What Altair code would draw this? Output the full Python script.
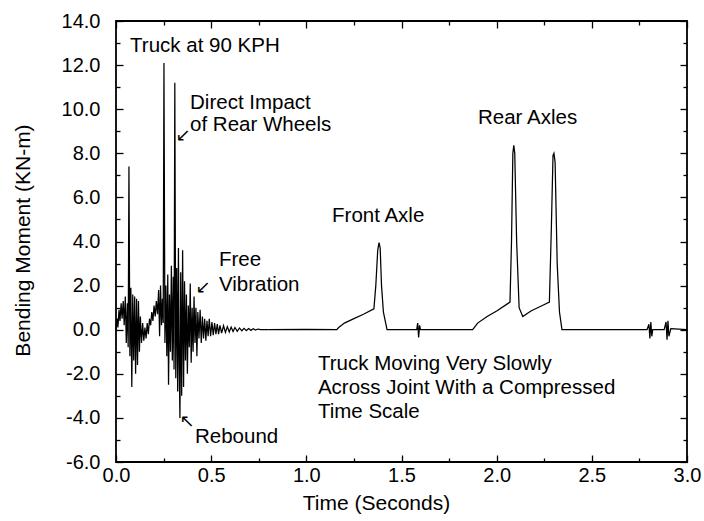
import altair as alt
import pandas as pd

# ---- data ----
fast_t = [0.000, 0.006, 0.010, 0.016, 0.021, 0.027, 0.032, 0.038, 0.043, 0.049,
          0.054, 0.060, 0.064, 0.068, 0.073, 0.078, 0.083, 0.088, 0.093, 0.098,
          0.103, 0.108, 0.113, 0.118, 0.123, 0.128, 0.134, 0.140, 0.146, 0.152,
          0.158, 0.164, 0.170, 0.176, 0.182, 0.188, 0.194, 0.200, 0.206, 0.212,
          0.218, 0.224, 0.229, 0.234, 0.239, 0.244, 0.248, 0.252, 0.257, 0.262,
          0.267, 0.272, 0.276, 0.281, 0.286, 0.291, 0.296, 0.301, 0.305, 0.309,
          0.314, 0.319, 0.324, 0.328, 0.332, 0.336, 0.340, 0.345, 0.350, 0.355,
          0.360, 0.365, 0.370, 0.375, 0.380, 0.385, 0.390, 0.395, 0.400, 0.405,
          0.410, 0.415, 0.420, 0.425, 0.430, 0.436, 0.442, 0.448, 0.454, 0.460,
          0.466, 0.472, 0.478, 0.484, 0.490, 0.497, 0.504, 0.511, 0.518, 0.525,
          0.532, 0.539, 0.546, 0.555, 0.565, 0.575, 0.585, 0.595, 0.605, 0.615,
          0.625, 0.637, 0.649, 0.661, 0.673, 0.685, 0.697, 0.709, 0.721, 0.733,
          0.745, 0.760, 0.800]
fast_v = [0.0, 0.5, 0.1, 0.9, 0.4, 1.2, 0.5, 1.3, 0.2, 1.5,
          -0.6, 1.2, -0.8, 7.4, -1.2, 1.9, -2.6, 1.6, -1.4, 1.5,
          -2.0, 1.4, -1.6, 1.3, -1.0, 0.6, -0.6, 0.3, -0.5, 0.1,
          -0.4, 0.3, -0.2, 0.5, 0.2, 0.8, 0.4, 1.1, 0.6, 1.3,
          0.7, 1.8, -0.3, 2.0, 0.2, 1.4, 0.3, 12.1, -0.6, 2.0,
          -1.2, 2.5, -2.5, 1.6, -1.0, 2.9, -1.4, 2.4, -1.8, 11.2,
          -2.2, 2.8, -2.8, 3.7, -1.6, -4.0, 2.6, -3.0, 3.6, -2.6,
          2.2, -1.4, 1.6, -2.0, 1.1, -0.8, 2.1, -1.5, 1.0, -1.0,
          1.5, -0.6, 1.0, -1.2, 0.8, -0.4, 0.9, -0.6, 0.6, -0.4,
          0.5, -0.5, 0.4, -0.3, 0.5, -0.3, 0.35, -0.25, 0.3, -0.2,
          0.25, -0.2, 0.2, -0.15, 0.18, -0.12, 0.14, -0.1, 0.12, -0.08,
          0.1, -0.07, 0.08, -0.05, 0.06, -0.04, 0.05, -0.03, 0.04, -0.02,
          0.03, 0.0, 0.0]

slow_t = [0.80, 1.00, 1.16, 1.17, 1.20, 1.25, 1.30, 1.355, 1.365, 1.375,
          1.382, 1.388, 1.395, 1.405, 1.424, 1.58, 1.585, 1.59, 1.595, 1.60,
          1.874, 1.90, 1.95, 2.00, 2.07, 2.078, 2.085, 2.090, 2.095, 2.105,
          2.118, 2.137, 2.18, 2.24, 2.277, 2.287, 2.296, 2.301, 2.307, 2.318,
          2.33, 2.343, 2.79, 2.80, 2.805, 2.81, 2.815, 2.82, 2.88, 2.89,
          2.895, 2.90, 2.905, 2.915, 3.00]
slow_v = [0.0, 0.02, 0.0, 0.1, 0.3, 0.5, 0.7, 0.95, 2.0, 3.6,
          3.95, 3.7, 2.0, 0.8, 0.0, 0.0, 0.3, -0.35, 0.2, 0.0,
          0.0, 0.3, 0.6, 0.85, 1.25, 4.0, 8.0, 8.36, 8.0, 4.0,
          1.0, 0.6, 0.85, 1.1, 1.25, 4.5, 7.9, 8.0, 7.6, 3.0,
          0.8, 0.0, 0.0, 0.25, -0.4, 0.35, -0.3, 0.0, 0.0, 0.35,
          -0.45, 0.4, -0.3, 0.05, 0.0]

x_major = [0.0, 0.5, 1.0, 1.5, 2.0, 2.5, 3.0]
x_minor = [0.25, 0.75, 1.25, 1.75, 2.25, 2.75]
y_major = [-6, -4, -2, 0, 2, 4, 6, 8, 10, 12, 14]
y_minor = [-5, -3, -1, 1, 3, 5, 7, 9, 11, 13]

ann_text = ["Truck at 90 KPH", "Direct Impact", "of Rear Wheels", "Free", "Vibration",
            "Rebound", "Front Axle", "Rear Axles", "Truck Moving Very Slowly",
            "Across Joint With a Compressed", "Time Scale"]
ann_t = [0.074, 0.389, 0.389, 0.541, 0.541, 0.415, 1.135, 1.902, 1.061, 1.061, 1.061]
ann_v = [12.88, 10.3, 9.3, 3.17, 2.04, -4.85, 5.17, 9.6, -1.54, -2.63, -3.72]

arrow_text = ["↙", "↙", "↖"]
arrow_t = [0.352, 0.457, 0.373]
arrow_v = [8.8, 1.9, -4.2]

FONT = "Liberation Sans"
W, H = 571, 441

df = pd.DataFrame({
    "t": fast_t + slow_t,
    "v": fast_v + slow_v,
    "s": ["fast"] * len(fast_t) + ["slow"] * len(slow_t),
})
ann = pd.DataFrame({"label": ann_text, "t": ann_t, "v": ann_v})
arr = pd.DataFrame({"label": arrow_text, "t": arrow_t, "v": arrow_v})

xs = alt.Scale(domain=[0, 3], nice=False, zero=False)
ys = alt.Scale(domain=[-6, 14], nice=False, zero=False)

ylab = "(datum.value < 0 ? '-' : '') + format(abs(datum.value), '.1f')"
xlab = "format(datum.value, '.1f')"

base = alt.Chart(df)

main = base.mark_line(color="black", strokeWidth=1.25).encode(
    x=alt.X("t:Q", scale=xs, axis=alt.Axis(
        orient="bottom", values=x_major, offset=-7, tickSize=7, domain=False, grid=False,
        labelExpr=xlab, labelPadding=3, labelFlush=False,
        title="Time (Seconds)", titlePadding=7, titleX=260)),
    y=alt.Y("v:Q", scale=ys, axis=alt.Axis(
        orient="left", values=y_major, offset=-7, tickSize=7, domain=False, grid=False,
        labelExpr=ylab, labelPadding=16, labelFlush=False,
        title="Bending Moment (KN-m)", titlePadding=28, titleY=219)),
    detail="s:N",
)

minor_bl = base.mark_line(strokeOpacity=0).encode(
    x=alt.X("t:Q", scale=xs, axis=alt.Axis(
        orient="bottom", values=x_minor, offset=-4, tickSize=4, domain=False, grid=False,
        labels=False, title=None)),
    y=alt.Y("v:Q", scale=ys, axis=alt.Axis(
        orient="left", values=y_minor, offset=-4, tickSize=4, domain=False, grid=False,
        labels=False, title=None)),
    detail="s:N",
)

major_tr = base.mark_line(strokeOpacity=0).encode(
    x=alt.X("t:Q", scale=xs, axis=alt.Axis(
        orient="top", values=x_major, offset=-7, tickSize=7, domain=False, grid=False,
        labels=False, title=None)),
    y=alt.Y("v:Q", scale=ys, axis=alt.Axis(
        orient="right", values=y_major, offset=-7, tickSize=7, domain=False, grid=False,
        labels=False, title=None)),
    detail="s:N",
)

minor_tr = base.mark_line(strokeOpacity=0).encode(
    x=alt.X("t:Q", scale=xs, axis=alt.Axis(
        orient="top", values=x_minor, offset=-4, tickSize=4, domain=False, grid=False,
        labels=False, title=None)),
    y=alt.Y("v:Q", scale=ys, axis=alt.Axis(
        orient="right", values=y_minor, offset=-4, tickSize=4, domain=False, grid=False,
        labels=False, title=None)),
    detail="s:N",
)

texts = alt.Chart(ann).mark_text(
    align="left", baseline="middle", font=FONT, fontSize=20.5, color="black"
).encode(
    x=alt.X("t:Q", scale=xs, axis=None),
    y=alt.Y("v:Q", scale=ys, axis=None),
    text="label:N",
)

arrows = alt.Chart(arr).mark_text(
    align="center", baseline="middle", font="DejaVu Sans", fontSize=18, color="black"
).encode(
    x=alt.X("t:Q", scale=xs, axis=None),
    y=alt.Y("v:Q", scale=ys, axis=None),
    text="label:N",
)

chart = alt.layer(main, minor_bl, major_tr, minor_tr, texts, arrows).resolve_axis(
    x="independent", y="independent"
).properties(
    width=W, height=H,
    padding={"left": 116, "top": 21, "right": 17, "bottom": 59},
    autosize=alt.AutoSizeParams(type="none"),
    background="white",
).configure_view(
    stroke="black", strokeWidth=1.8
).configure_axis(
    labelFont=FONT, labelFontSize=20, labelColor="black",
    titleFont=FONT, titleFontSize=21, titleColor="black", titleFontWeight="normal",
    tickColor="black", tickWidth=1.3,
)

chart.save("out.html", embed_options={"renderer": "svg", "actions": False})
